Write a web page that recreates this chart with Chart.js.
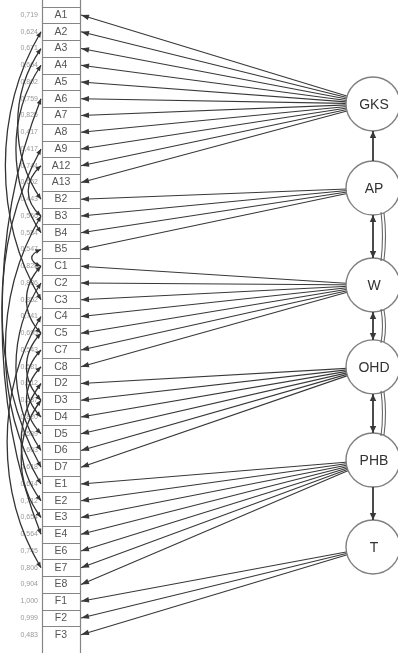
<!DOCTYPE html>
<html><head><meta charset="utf-8">
<script src="https://cdn.jsdelivr.net/npm/chart.js@4.4.0/dist/chart.umd.min.js"></script>
<style>html,body{margin:0;padding:0;background:#fff;overflow:hidden}#wrap{width:398px;height:653px;position:relative}</style>
</head><body><div id="wrap"><canvas id="c"></canvas></div>
<script>
// ---- data ----
const items = ['A1','A2','A3','A4','A5','A6','A7','A8','A9','A12','A13',
  'B2','B3','B4','B5',
  'C1','C2','C3','C4','C5','C7','C8',
  'D2','D3','D4','D5','D6','D7',
  'E1','E2','E3','E4','E6','E7','E8',
  'F1','F2','F3'];
const loadings = ['0,719','0,624','0,671','0,664','0,802','0,759','0,825','0,417','0,417','0,744','0,652',
  '0,443','0,566','0,584','0,547',
  '0,828','0,836','0,852','0,741','0,695','0,543','0,581',
  '0,612','0,637','0,820','0,589','0,603','0,618',
  '0,614','0,712','0,654','0,564','0,745','0,806','0,904',
  '1,000','0,999','0,483'];
const latents = ['GKS','AP','W','OHD','PHB','T'];
const indicatorGroups = {
  GKS: ['A1','A2','A3','A4','A5','A6','A7','A8','A9','A12','A13'],
  AP:  ['B2','B3','B4','B5'],
  W:   ['C1','C2','C3','C4','C5','C7','C8'],
  OHD: ['D2','D3','D4','D5','D6','D7'],
  PHB: ['E1','E2','E3','E4','E6','E7','E8'],
  T:   ['F1','F2','F3']
};
const structuralPaths = [['AP','GKS','single'],['AP','W','double'],['W','OHD','double'],['OHD','PHB','double'],['PHB','T','single']];
const errorCovariances = [['A2','C3'],['A3','B2'],['A4','B4'],['A6','E4'],['A9','D7'],['A12','B3'],
  ['B3','E1'],['B5','C1'],['C1','C5'],['C2','D6'],['C4','E7'],['C5','D3'],['C7','D4'],['C8','D5'],['D2','E2'],['D3','E3']];

// ---- layout (positions / styles) ----
const L = {
  rowTop: -0.896, rowBottom: 38.09,
  boxLeft: 42, boxRight: 80, numRight: 38,
  latentX: 373, latentR: 27,
  latentRow: {GKS:5.31, AP:10.33, W:16.12, OHD:21.01, PHB:26.57, T:31.76},
  ink: '#383838'
};

const rowOf = name => items.indexOf(name);

const datasets = [];
datasets.push({
  label:'latents', order:-1, clip:false,
  data: latents.map(n => ({x:L.latentX, y:L.latentRow[n]})),
  pointRadius:L.latentR, pointHoverRadius:L.latentR,
  pointBackgroundColor:'#ffffff', pointBorderColor:'#808080', pointBorderWidth:1.4,
  showLine:false
});
latents.forEach(n => {
  indicatorGroups[n].forEach(it => {
    datasets.push({
      label:n+'-'+it, order:1, showLine:true, clip:false,
      data:[{x:L.latentX, y:L.latentRow[n]},{x:L.boxRight+1, y:rowOf(it)}],
      borderColor:L.ink, borderWidth:1.15, pointRadius:0, pointHoverRadius:0
    });
  });
});

function arrowHead(ctx, x, y, ang, len, hw){
  ctx.beginPath();
  ctx.moveTo(x, y);
  ctx.lineTo(x - len*Math.cos(ang) + hw*Math.sin(ang), y - len*Math.sin(ang) - hw*Math.cos(ang));
  ctx.lineTo(x - len*Math.cos(ang) - hw*Math.sin(ang), y - len*Math.sin(ang) + hw*Math.cos(ang));
  ctx.closePath();
  ctx.fill();
}

const diagramPlugin = {
  id:'diagram',
  beforeDatasetsDraw(chart){
    const {ctx, scales:{x, y}} = chart;
    const px = v => x.getPixelForValue(v), py = v => y.getPixelForValue(v);
    const rh = Math.abs(py(1)-py(0));
    ctx.save();
    // box column
    ctx.strokeStyle = '#858585'; ctx.lineWidth = 1.2;
    ctx.beginPath();
    ctx.moveTo(Math.round(px(L.boxLeft))+0.5, 0); ctx.lineTo(Math.round(px(L.boxLeft))+0.5, chart.height);
    ctx.moveTo(Math.round(px(L.boxRight))+0.5, 0); ctx.lineTo(Math.round(px(L.boxRight))+0.5, chart.height);
    for (let i = 0; i < items.length; i++){
      const yy = Math.round(py(i) - rh/2) + 0.5;
      ctx.moveTo(px(L.boxLeft), yy); ctx.lineTo(px(L.boxRight), yy);
    }
    ctx.stroke();
    // item labels
    ctx.fillStyle = '#555';
    ctx.font = '10.5px "Liberation Sans", Arial, sans-serif';
    ctx.textAlign = 'center'; ctx.textBaseline = 'middle';
    items.forEach((t,i) => ctx.fillText(t, px((L.boxLeft+L.boxRight)/2), py(i)));
    // loadings
    ctx.fillStyle = '#999';
    ctx.font = '7px "Liberation Sans", Arial, sans-serif';
    ctx.textAlign = 'right';
    loadings.forEach((t,i) => ctx.fillText(t, px(L.numRight), py(i)));
    // error covariances
    ctx.strokeStyle = '#333'; ctx.fillStyle = '#333'; ctx.lineWidth = 1.3;
    errorCovariances.forEach(([a,b]) => {
      const y1 = py(rowOf(a)), y2 = py(rowOf(b));
      const x0 = px(L.boxLeft) - 1;
      const span = y2 - y1;
      const bulge = Math.min(52, 10 + span*0.14);
      ctx.beginPath();
      ctx.moveTo(x0, y1);
      ctx.bezierCurveTo(x0 - bulge, y1 + span*0.3, x0 - bulge, y2 - span*0.3, x0, y2);
      ctx.stroke();
      const ang1 = Math.atan2(y1 - (y1 + span*0.3), x0 - (x0 - bulge));
      const ang2 = Math.atan2(y2 - (y2 - span*0.3), x0 - (x0 - bulge));
      arrowHead(ctx, x0, y1, ang1, 5.5, 2.4);
      arrowHead(ctx, x0, y2, ang2, 5.5, 2.4);
    });
    ctx.restore();
  },
  afterDatasetsDraw(chart){
    const {ctx, scales:{x, y}} = chart;
    const px = v => x.getPixelForValue(v), py = v => y.getPixelForValue(v);
    ctx.save();
    ctx.fillStyle = L.ink; ctx.strokeStyle = L.ink;
    // arrowheads at indicator boxes
    latents.forEach(n => {
      const cx = px(L.latentX), cy = py(L.latentRow[n]);
      indicatorGroups[n].forEach(it => {
        const tx = px(L.boxRight+1), ty = py(rowOf(it));
        const ang = Math.atan2(ty - cy, tx - cx);
        arrowHead(ctx, tx, ty, ang, 8, 2.8);
      });
    });
    // structural paths between latents
    structuralPaths.forEach(([a,b,kind]) => {
      const ya = py(L.latentRow[a]), yb = py(L.latentRow[b]);
      const dir = Math.sign(yb - ya);
      const cx = px(L.latentX);
      const r = L.latentR;
      const s = ya + dir*r, e = yb - dir*r;
      ctx.lineWidth = 1.8;
      ctx.beginPath(); ctx.moveTo(cx, s); ctx.lineTo(cx, e); ctx.stroke();
      arrowHead(ctx, cx, e, dir > 0 ? Math.PI/2 : -Math.PI/2, 7, 3.2);
      if (kind === 'double'){
        arrowHead(ctx, cx, s, dir > 0 ? -Math.PI/2 : Math.PI/2, 7, 3.2);
        ctx.lineWidth = 1.1;
        ctx.strokeStyle = '#666';
        ctx.beginPath();
        ctx.moveTo(cx + 8, s - dir*3);
        ctx.quadraticCurveTo(cx + 11, (s+e)/2, cx + 8, e + dir*3);
        ctx.moveTo(cx + 11, s - dir*2);
        ctx.quadraticCurveTo(cx + 14, (s+e)/2, cx + 11, e + dir*2);
        ctx.stroke();
        ctx.strokeStyle = L.ink;
      }
    });
    // latent labels
    ctx.fillStyle = '#333';
    ctx.font = '14px "Liberation Sans", Arial, sans-serif';
    ctx.textAlign = 'center'; ctx.textBaseline = 'middle';
    latents.forEach(n => ctx.fillText(n, px(L.latentX)+1, py(L.latentRow[n])+1));
    ctx.restore();
  }
};

new Chart(document.getElementById('c'), {
  type:'scatter',
  data:{datasets},
  options:{
    responsive:true, maintainAspectRatio:false, animation:false,
    layout:{padding:0, autoPadding:false},
    plugins:{legend:{display:false}, tooltip:{enabled:false}},
    scales:{
      x:{type:'linear', min:0, max:398, display:false},
      y:{type:'linear', min:L.rowTop, max:L.rowBottom, reverse:true, display:false}
    }
  },
  plugins:[diagramPlugin]
});
</script>
</body></html>
